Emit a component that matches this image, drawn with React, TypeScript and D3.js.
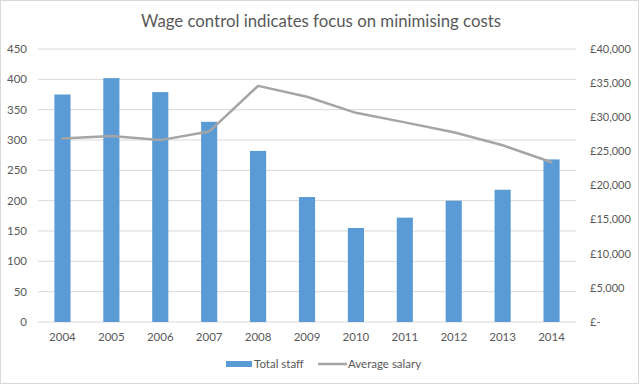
import * as d3 from "d3";

const WIDTH = 641;
const HEIGHT = 385;
const M = { left: 38, right: 576, top: 49, bottom: 322 };

const years = ["2004", "2005", "2006", "2007", "2008", "2009", "2010", "2011", "2012", "2013", "2014"];
const totalStaff = [375, 402, 379, 330, 282, 206, 155, 172, 200, 218, 268];
const avgSalary = [26900, 27250, 26650, 27900, 34600, 33000, 30650, 29250, 27800, 25900, 23400];
const staffTicks = [0, 50, 100, 150, 200, 250, 300, 350, 400, 450];
const salaryTicks = [0, 5000, 10000, 15000, 20000, 25000, 30000, 35000, 40000];

const FONT = "Lato, 'Open Sans', sans-serif";
const TEXT = "#595959";
const BAR = "#5B9BD5";
const LINE = "#A5A5A5";
const GRID = "#D9D9D9";

const fmtSalary = (v: number) => (v === 0 ? "£-" : "£" + d3.format(",")(v));

export default function App() {
  const x = d3.scaleBand().domain(years).range([M.left, M.right]).paddingInner(0.67).paddingOuter(0.335);
  const xc = (y: string) => (x(y) ?? 0) + x.bandwidth() / 2;
  const yL = d3.scaleLinear().domain([0, 450]).range([M.bottom, M.top]);
  const yR = d3.scaleLinear().domain([0, 40000]).range([M.bottom, M.top]);

  const line = d3
    .line<number>()
    .x((_, i) => xc(years[i]))
    .y((d) => yR(d));

  return (
    <svg
      width={WIDTH}
      height={HEIGHT}
      style={{ position: "fixed", left: 0, top: 0, display: "block", background: "#fff" }}
      fontFamily={FONT}
    >
      <rect x={0.5} y={0.5} width={WIDTH - 3} height={HEIGHT - 2} fill="#fff" stroke={GRID} />
      <text x={321} y={27} textAnchor="middle" fontSize={16.8} fill={TEXT} fontWeight={400}>
        Wage control indicates focus on minimising costs
      </text>

      <g className="grid">
        {staffTicks.map((t) => (
          <line key={t} x1={M.left} x2={M.right} y1={yL(t)} y2={yL(t)} stroke={GRID} strokeWidth={1} />
        ))}
      </g>

      <g className="left-axis" fontSize={11.5} fill={TEXT}>
        {staffTicks.map((t) => (
          <text key={t} x={27} y={yL(t)} dy="0.35em" textAnchor="end">
            {t}
          </text>
        ))}
      </g>

      <g className="right-axis" fontSize={11} fill={TEXT}>
        {salaryTicks.map((t) => (
          <text key={t} x={590} y={yR(t)} dy="0.35em" textAnchor="start">
            {fmtSalary(t)}
          </text>
        ))}
      </g>

      <g className="bars">
        {totalStaff.map((v, i) => (
          <rect key={years[i]} x={x(years[i])} y={yL(v)} width={x.bandwidth()} height={yL(0) - yL(v)} fill={BAR} />
        ))}
      </g>

      <path d={line(avgSalary) ?? ""} fill="none" stroke={LINE} strokeWidth={2.5} strokeLinejoin="round" strokeLinecap="round" />

      <g className="x-axis" fontSize={11.5} fill={TEXT}>
        {years.map((y) => (
          <text key={y} x={xc(y)} y={341} textAnchor="middle">
            {y}
          </text>
        ))}
      </g>

      <g className="legend" fontSize={11.5} fill={TEXT}>
        <rect x={226} y={361} width={26} height={6} fill={BAR} />
        <text x={254} y={368}>Total staff</text>
        <line x1={318} x2={347} y1={364} y2={364} stroke={LINE} strokeWidth={2.5} />
        <text x={348} y={368}>Average salary</text>
      </g>
    </svg>
  );
}
